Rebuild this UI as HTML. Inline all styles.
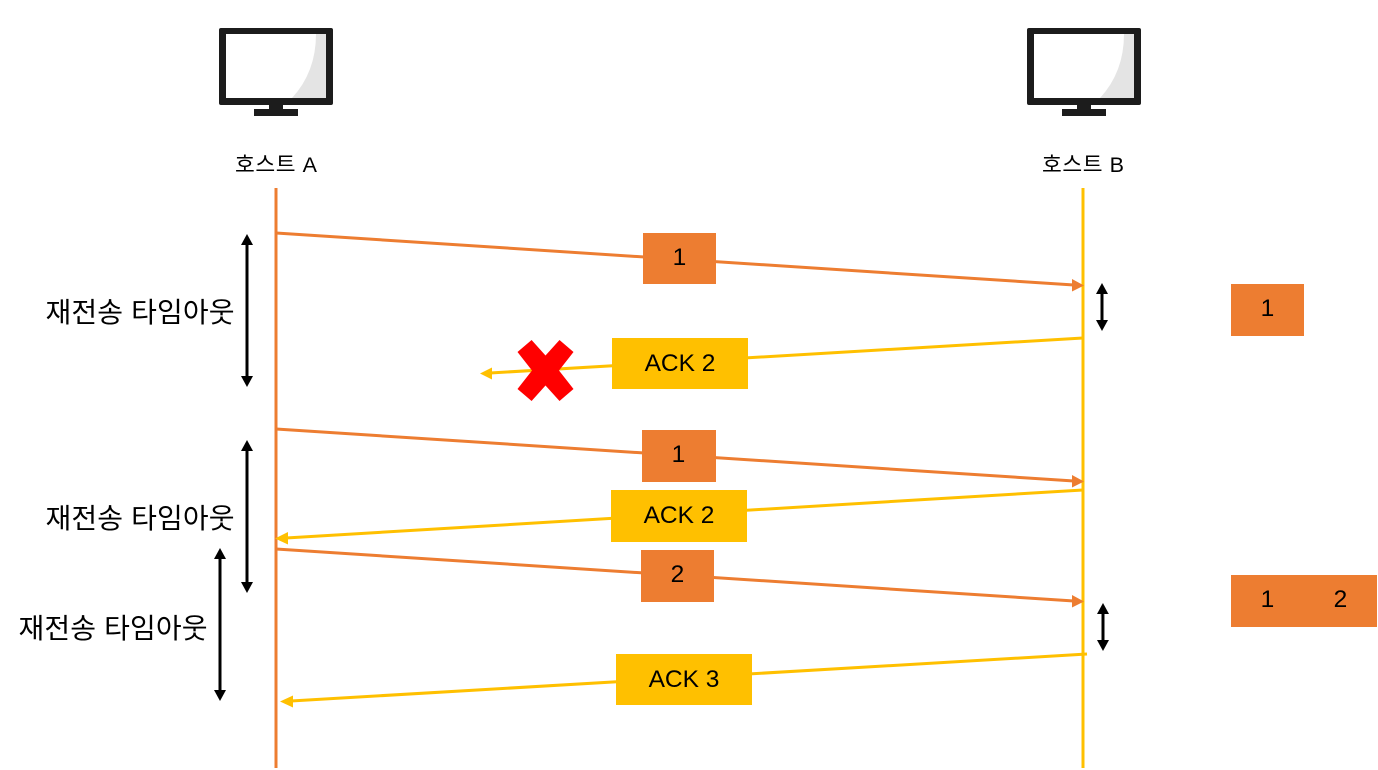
<!DOCTYPE html>
<html lang="ko">
<head>
<meta charset="utf-8">
<style>
html,body{margin:0;padding:0;background:#fff}
svg{display:block}
text{font-family:"Liberation Sans","Noto Sans CJK KR",sans-serif;fill:#000}
.n{font-size:24.5px;text-anchor:middle}
.k{font-size:28px;text-anchor:middle}
.h{font-size:21.5px;text-anchor:middle}
</style>
</head>
<body>
<svg width="1378" height="770" viewBox="0 0 1378 770" xmlns="http://www.w3.org/2000/svg">
<defs>
<g id="mon">
<path d="M221 28H331Q333 28 333 30V103Q333 105 331 105H221Q219 105 219 103V30Q219 28 221 28Z" fill="#1c1c1c"/>
<rect x="226" y="34" width="100" height="64" fill="#fff"/>
<path d="M316 34H326V98H292Q316 72 316 34Z" fill="#e4e4e4"/>
<rect x="269" y="105" width="14" height="6" fill="#1c1c1c"/>
<rect x="254" y="109" width="44" height="7" fill="#1c1c1c"/>
</g>
</defs>

<use href="#mon"/>
<use href="#mon" transform="translate(808 0)"/>
<text class="h" x="276" y="172" textLength="82" lengthAdjust="spacing">호스트 A</text>
<text class="h" x="1083" y="172" textLength="82" lengthAdjust="spacing">호스트 B</text>

<line x1="276" y1="188" x2="276" y2="768" stroke="#ed7d31" stroke-width="3"/>
<line x1="1083" y1="188" x2="1083" y2="768" stroke="#ffc000" stroke-width="3"/>

<g stroke="#ed7d31" stroke-width="3">
<line x1="276" y1="233" x2="1074" y2="285"/>
<line x1="276" y1="429" x2="1074" y2="481"/>
<line x1="276" y1="549" x2="1074" y2="601"/>
</g>
<g fill="#ed7d31">
<polygon points="1084,285.5 1072,279 1072,291.5"/>
<polygon points="1084,481.5 1072,475 1072,487.5"/>
<polygon points="1084,601.5 1072,595 1072,607.5"/>
</g>

<g stroke="#ffc000" stroke-width="3">
<line x1="1083" y1="338" x2="490" y2="373"/>
<line x1="1083" y1="490" x2="286" y2="538"/>
<line x1="1087" y1="654" x2="291" y2="701"/>
</g>
<g fill="#ffc000">
<polygon points="480,373.5 492,367.5 492,379.5"/>
<polygon points="275,538.5 288,532 288,544.5"/>
<polygon points="280,701.5 293,695.5 293,707.5"/>
</g>

<polygon points="531.6,340 545.5,355.5 559.5,340 573.5,352 559,370.5 573.5,389 559.5,401 545.5,385.5 531.6,401 517.5,389 532,370.5 517.5,352" fill="#f00"/>

<g fill="#ed7d31">
<rect x="643" y="233" width="73" height="51"/>
<rect x="642" y="430" width="74" height="52"/>
<rect x="641" y="550" width="73" height="52"/>
<rect x="1231" y="284" width="73" height="52"/>
<rect x="1231" y="575" width="146" height="52"/>
</g>
<g fill="#ffc000">
<rect x="612" y="338" width="136" height="51"/>
<rect x="611" y="490" width="136" height="52"/>
<rect x="616" y="654" width="136" height="51"/>
</g>

<text class="n" x="679.5" y="265">1</text>
<text class="n" x="678.5" y="462">1</text>
<text class="n" x="677.5" y="582">2</text>
<text class="n" x="1267.5" y="316">1</text>
<text class="n" x="1267.5" y="607">1</text>
<text class="n" x="1340.5" y="607">2</text>
<text class="n" x="680" y="371">ACK 2</text>
<text class="n" x="679" y="523">ACK 2</text>
<text class="n" x="684" y="687">ACK 3</text>

<g stroke="#000" stroke-width="3">
<line x1="247" y1="242" x2="247" y2="378"/>
<line x1="247" y1="448" x2="247" y2="585"/>
<line x1="220" y1="556" x2="220" y2="693"/>
<line x1="1102" y1="291" x2="1102" y2="324"/>
<line x1="1103" y1="611" x2="1103" y2="644"/>
</g>
<g fill="#000">
<polygon points="247,234 241,245 253,245"/><polygon points="247,387 241,376 253,376"/>
<polygon points="247,440 241,451 253,451"/><polygon points="247,593 241,582 253,582"/>
<polygon points="220,548 214,559 226,559"/><polygon points="220,701 214,690 226,690"/>
<polygon points="1102,283 1096,294 1108,294"/><polygon points="1102,331 1096,320 1108,320"/>
<polygon points="1103,603 1097,614 1109,614"/><polygon points="1103,651 1097,640 1109,640"/>
</g>

<text class="k" x="140" y="322" textLength="189" lengthAdjust="spacing">재전송 타임아웃</text>
<text class="k" x="140" y="528" textLength="189" lengthAdjust="spacing">재전송 타임아웃</text>
<text class="k" x="113" y="638" textLength="189" lengthAdjust="spacing">재전송 타임아웃</text>
</svg>
</body>
</html>
